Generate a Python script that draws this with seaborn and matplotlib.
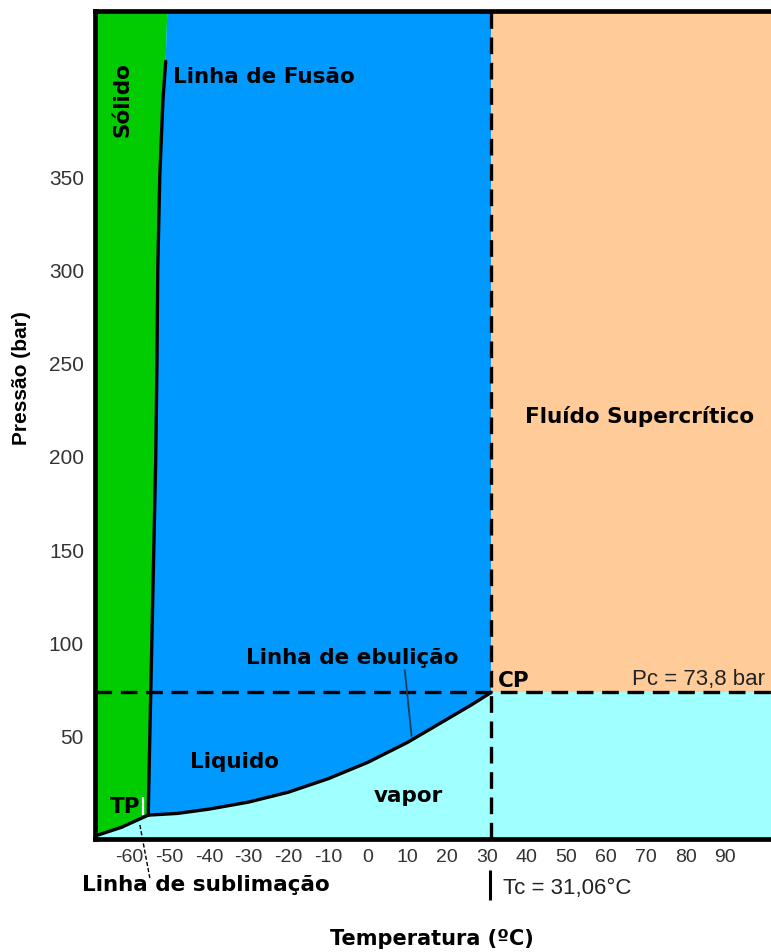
import numpy as np
import pandas as pd
import matplotlib
matplotlib.use("Agg")
import matplotlib.pyplot as plt
import seaborn as sns

# ---- data -----------------------------------------------------------------
# triple point and critical point (°C, bar)
tp_T, tp_P = -55.3, 8.0
Tc, Pc = 31.06, 73.8

# sublimation curve (solid / vapour)
subl_T = [-68.7, -62.0, -55.3]
subl_P = [-3.2, 1.5, 8.0]

# melting curve (solid / liquid), from the triple point upward
melt_T = [-55.3, -54.9, -54.4, -53.9, -53.4, -53.1, -52.9, -52.4, -51.6, -50.9, -50.4]
melt_P = [8.0, 50, 100, 150, 200, 250, 300, 350, 391, 412, 445]

# boiling curve (liquid / vapour), triple point to critical point
boil_T = [-55.3, -48.0, -40.0, -30.0, -20.0, -10.0, 0.0, 10.0, 20.0, 26.0, 31.06]
boil_P = [8.0, 8.9, 11.2, 15.0, 20.3, 27.5, 36.3, 47.0, 59.5, 67.0, 73.8]

x_ticks = [-60, -50, -40, -30, -20, -10, 0, 10, 20, 30, 40, 50, 60, 70, 80, 90]
x_labels = ["-60", "-50", "-40", "-30", "-20", "-10", "0", "10", "20", "30",
            "40", "50", "60", "70", "80", "90"]
y_ticks = [50, 100, 150, 200, 250, 300, 350]
y_labels = ["50", "100", "150", "200", "250", "300", "350"]

x_min, x_max = -68.7, 101.5
y_min, y_max = -4.8, 439.0

# ---- style ----------------------------------------------------------------
sns.set_theme(style="white")
plt.rcParams["font.family"] = ["DejaVu Sans"]
plt.rcParams["axes.unicode_minus"] = False

GREEN = "#00CC00"
BLUE = "#0099FF"
PEACH = "#FFCC99"
CYAN = "#A0FFFF"

fig = plt.figure(figsize=(7.71, 9.52), dpi=100)
ax = fig.add_axes([95 / 771, 1 - 839 / 952, 1 - 95 / 771, (839 - 11) / 952])
ax.set_xlim(x_min, x_max)
ax.set_ylim(y_min, y_max)
ax.set_facecolor(CYAN)

# ---- phase regions --------------------------------------------------------
solid_x = [x_min] + subl_T + melt_T + [x_min]
solid_y = [y_min - 5] + subl_P + melt_P + [melt_P[-1]]
ax.fill(solid_x, solid_y, color=GREEN, lw=0, zorder=1)

liq_x = melt_T + [Tc] + boil_T[::-1]
liq_y = melt_P + [melt_P[-1]] + boil_P[::-1]
ax.fill(liq_x, liq_y, color=BLUE, lw=0, zorder=1)

ax.fill_between([Tc, x_max + 5], Pc, y_max + 5, color=PEACH, lw=0, zorder=1)

# ---- phase boundaries -----------------------------------------------------
curves = pd.concat([
    pd.DataFrame({"T": subl_T, "P": subl_P, "curva": "sublimação"}),
    pd.DataFrame({"T": melt_T[:-1], "P": melt_P[:-1], "curva": "fusão"}),
    pd.DataFrame({"T": boil_T, "P": boil_P, "curva": "ebulição"}),
])
sns.lineplot(data=curves, x="T", y="P", units="curva", estimator=None,
             sort=False, color="black", lw=2.4, ax=ax, zorder=4, legend=False)

# critical isobar and isotherm
dash = dict(color="black", lw=2.4, dashes=(5.0, 2.6), dash_capstyle="butt", zorder=5)
ax.axhline(Pc, **dash)
ax.axvline(Tc, **dash)

# small white marker next to the triple point
ax.plot([-56.5, -56.5], [8.0, 17.8], color="white", lw=1.6, zorder=4,
        solid_capstyle="butt")

# ---- labels inside the diagram ---------------------------------------------
bold = dict(fontweight="bold", color="black", fontsize=15.5, zorder=6)
ax.text(-61.8, 391.7, "Sólido", rotation=90, ha="center", va="center", **bold)
ax.text(-49.0, 403.8, "Linha de Fusão", ha="left", va="center", **bold)
ax.text(68.4, 221.9, "Fluído Supercrítico", ha="center", va="center", **bold)
ax.text(32.8, 79.8, "CP", ha="left", va="center", **bold)
ax.text(-4.0, 92.2, "Linha de ebulição", ha="center", va="center", **bold)
ax.text(-33.7, 36.4, "Liquido", ha="center", va="center", **bold)
ax.text(10.2, 18.2, "vapor", ha="center", va="center", **bold)
ax.text(-61.2, 12.5, "TP", ha="center", va="center", **bold)
ax.text(100.0, 80.9, "Pc = 73,8 bar", ha="right", va="center",
        family="Liberation Sans", fontsize=16, color="#222222", zorder=6)

# leader for the boiling-line label
ax.plot([9.3, 11.0], [85.7, 50.5], color="#1b3a55", lw=1.3, zorder=6)

# leader for the sublimation-line label, running below the axis
ax.plot([-57.4, -54.9], [2.7, -25.7], color="black", lw=1.0,
        dashes=(3, 1.5), clip_on=False, zorder=6)
ax.text(-68.7 + (205.5 - 95) / 3.97, (830 - 885) / 1.866, "Linha de sublimação",
        ha="center", va="center", clip_on=False, **bold)

# critical temperature note under the axis
ax.plot([Tc - 0.4, Tc - 0.4], [-21.4, -37.5], color="black", lw=2.2,
        clip_on=False, solid_capstyle="butt")
ax.text(Tc + 3.0, (830 - 888) / 1.866, "Tc = 31,06°C", ha="left", va="center",
        family="Liberation Sans", fontsize=16, color="#222222", clip_on=False)

# ---- axes -----------------------------------------------------------------
ax.set_xticks(x_ticks, x_labels, family="Liberation Sans", fontsize=14, color="#333333")
ax.set_yticks(y_ticks, y_labels, family="Liberation Sans", fontsize=15, color="#333333")
ax.tick_params(axis="both", direction="in", length=7.5, width=1.6, color="black")
ax.tick_params(axis="x", pad=7)
ax.tick_params(axis="y", pad=8)

for side in ("left", "top", "bottom"):
    ax.spines[side].set_linewidth(3.4)
    ax.spines[side].set_color("black")
    ax.spines[side].set_zorder(7)
ax.spines["right"].set_visible(False)

ax.set_xlabel("Temperatura (ºC)", fontweight="bold", fontsize=15, color="black")
ax.xaxis.set_label_coords((432 - 95) / 676, (839 - 939) / 828)
ax.xaxis.label.set_va("center")
ax.set_ylabel("Pressão (bar)", fontweight="bold", fontsize=15, color="black",
              family="Liberation Sans")
ax.yaxis.set_label_coords((22 - 95) / 676, (839 - 378) / 828)
ax.yaxis.label.set_va("center")

fig.savefig("out.png", dpi=100)
